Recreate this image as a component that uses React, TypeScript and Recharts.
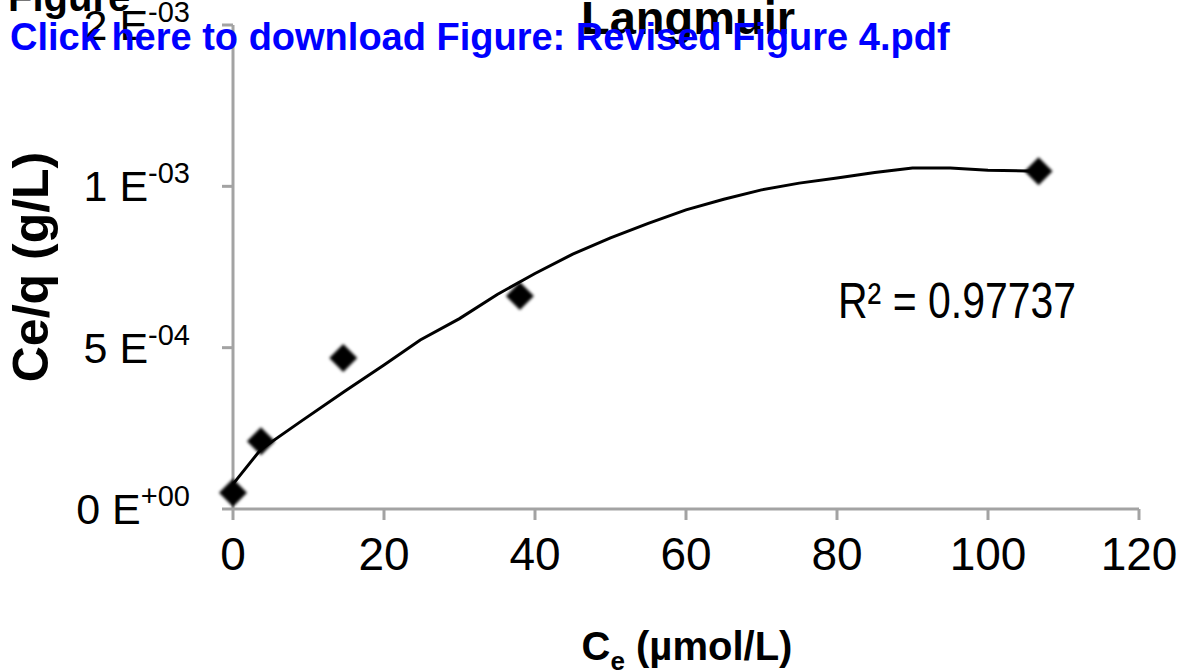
import { ScatterChart, Scatter, XAxis, YAxis } from 'recharts';

// measured isotherm points
const ceValues = [0, 3.7, 14.6, 38.0, 106.7];
const ceqValues = [0.00005, 0.00021, 0.000468, 0.00066, 0.001047];

// polynomial trend line, sampled along the curve
const fitCe = [
  0, 3.7, 8.9, 14.8, 20, 24.8, 30, 35, 40, 45, 50, 55, 60, 65, 70, 75, 80, 85,
  90, 95, 100, 106.7,
];
const fitCeq = [
  0.000077, 0.000185, 0.00027, 0.000365, 0.000446, 0.000524, 0.00059, 0.000665,
  0.00073, 0.00079, 0.00084, 0.000885, 0.000927, 0.00096, 0.000989, 0.00101,
  0.001026, 0.001043, 0.001057, 0.001057, 0.00105, 0.001047,
];

const xTicks = [0, 20, 40, 60, 80, 100, 120];
const yTicks = [0, 0.0005, 0.001, 0.0015];
const yTickBase = ['0 E', '5 E', '1 E', '2 E'];
const yTickExp = ['+00', '-04', '-03', '-03'];

const FONT = '"Liberation Sans", Arial, Helvetica, sans-serif';
const AXIS_GREY = '#A3A3A3';

const points = ceValues.map((x, i) => ({ x, y: ceqValues[i] }));
const fit = fitCe.map((x, i) => ({ x, y: fitCeq[i] }));

function Diamond(props: any) {
  const { cx, cy } = props;
  const r = 14;
  return (
    <polygon
      points={`${cx},${cy - r} ${cx + r},${cy} ${cx},${cy + r} ${cx - r},${cy}`}
      fill='#000'
      style={{ filter: 'blur(1.6px)' }}
    />
  );
}

function YTick(props: any) {
  const { y, payload } = props;
  const i = yTicks.indexOf(payload.value);
  return (
    <text x={190} y={y + 15} textAnchor='end' fontFamily={FONT} fontSize={43} fill='#000'>
      <tspan>{yTickBase[i]}</tspan>
      <tspan dy={-18} fontSize={29}>{yTickExp[i]}</tspan>
    </text>
  );
}

function XTick(props: any) {
  const { x, payload } = props;
  return (
    <text x={x} y={570} textAnchor='middle' fontFamily={FONT} fontSize={46} fill='#000'>
      {payload.value}
    </text>
  );
}

function XTitle() {
  return (
    <text x={687} y={660} textAnchor='middle' fontFamily={FONT} fontSize={40} fontWeight='bold' fill='#000'>
      <tspan>C</tspan>
      <tspan dy={10} fontSize={26}>e</tspan>
      <tspan dy={-10}> (µmol/L)</tspan>
    </text>
  );
}

function YTitle() {
  return (
    <text
      x={0}
      y={0}
      transform='translate(48, 267) rotate(-90)'
      textAnchor='middle'
      fontFamily={FONT}
      fontSize={50}
      fontWeight='bold'
      fill='#000'
    >
      Ce/q (g/L)
    </text>
  );
}

export default function App() {
  return (
    <div style={{ position: 'absolute', left: 0, top: 0, width: 1181, height: 672, background: '#fff' }}>
      <ScatterChart
        width={1181}
        height={672}
        margin={{ top: 25, right: 42, bottom: 103, left: 0 }}
      >
        <XAxis
          type='number'
          dataKey='x'
          domain={[0, 120]}
          ticks={xTicks}
          height={60}
          axisLine={{ stroke: AXIS_GREY, strokeWidth: 3 }}
          tickLine={{ stroke: AXIS_GREY, strokeWidth: 3 }}
          tickSize={11}
          tick={<XTick />}
          label={<XTitle />}
        />
        <YAxis
          type='number'
          dataKey='y'
          domain={[0, 0.0015]}
          ticks={yTicks}
          width={233}
          axisLine={{ stroke: AXIS_GREY, strokeWidth: 3 }}
          tickLine={{ stroke: AXIS_GREY, strokeWidth: 3 }}
          tickSize={11}
          tick={<YTick />}
          label={<YTitle />}
        />
        <Scatter
          data={fit}
          line={{ stroke: '#000', strokeWidth: 3 }}
          lineType='joint'
          shape={() => <g />}
          isAnimationActive={false}
        />
        <Scatter data={points} shape={<Diamond />} isAnimationActive={false} />
      </ScatterChart>
      <svg
        width={1181}
        height={672}
        style={{ position: 'absolute', left: 0, top: 0, pointerEvents: 'none' }}
      >
        <text x={8} y={11} fontFamily={FONT} fontSize={40} fontWeight='bold' fill='#000'>
          Figure
        </text>
        <text x={688} y={34} textAnchor='middle' fontFamily={FONT} fontSize={47} fontWeight='bold' fill='#000'>
          Langmuir
        </text>
        <text
          transform='translate(838, 318) scale(1, 1.2)'
          fontFamily={FONT}
          fontSize={41}
          fill='#000'
        >
          R² = 0.97737
        </text>
        <text x={10} y={50} fontFamily={FONT} fontSize={38} fontWeight='bold' fill='#0000FF'>
          Click here to download Figure: Revised Figure 4.pdf
        </text>
      </svg>
    </div>
  );
}
